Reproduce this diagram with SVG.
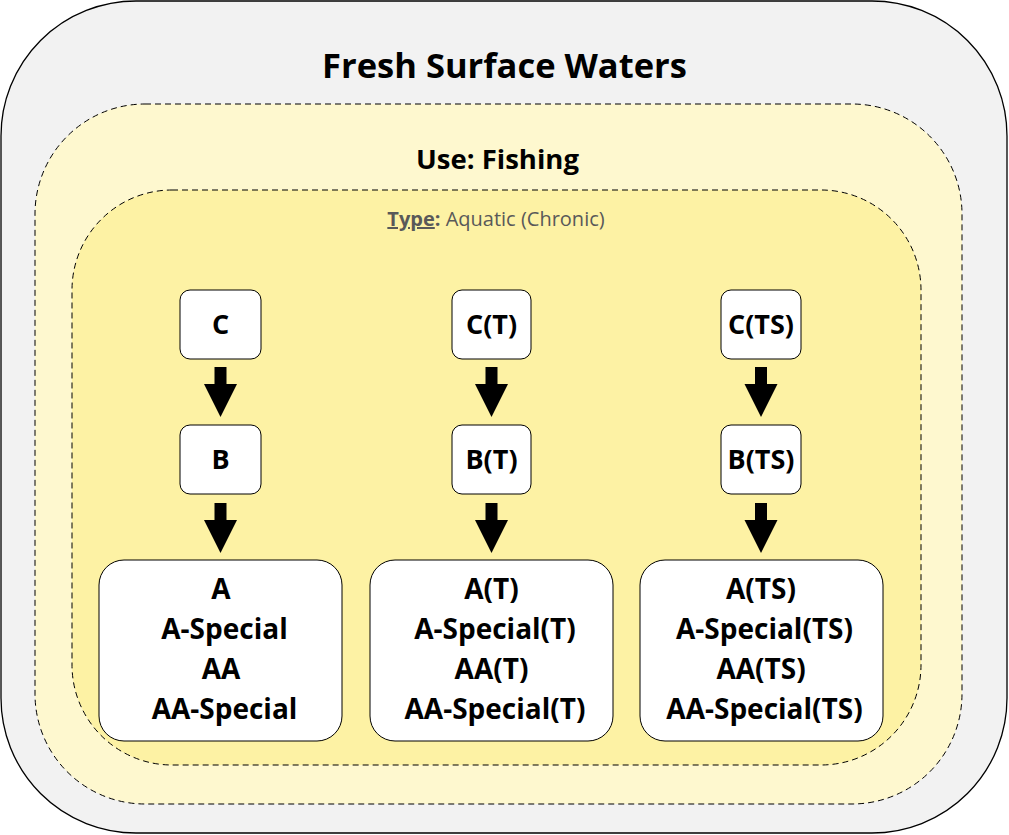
<svg xmlns="http://www.w3.org/2000/svg" width="1009" height="835" viewBox="0 0 1009 835">
<style>
.t{font-family:"Open Sans","Liberation Sans",sans-serif;font-weight:bold;fill:#000;text-anchor:middle}
.box{fill:#fff;stroke:#000;stroke-width:1}
.dash{stroke:#000;stroke-width:1;stroke-dasharray:6 4}
.arr{fill:#000}
</style>
<g id="outer">
<rect x="1" y="1" width="1006" height="832" rx="135" ry="135" fill="#f2f2f2" stroke="#000" stroke-width="1.3"/>
<text class="t" x="504.5" y="78" font-size="34.5">Fresh Surface Waters</text>
</g>
<g id="use-fishing">
<rect x="35" y="104" width="927" height="700" rx="110" ry="110" fill="#fef8cf" class="dash"/>
<text class="t" x="497.5" y="169" font-size="27.5">Use: Fishing</text>
</g>
<g id="type-aquatic">
<rect x="72" y="190" width="849" height="575" rx="100" ry="100" fill="#fdf2a4" class="dash"/>
<text x="496" y="226" font-family="Open Sans,Liberation Sans,sans-serif" font-size="20" fill="#595959" text-anchor="middle"><tspan font-weight="bold" text-decoration="underline">Type</tspan><tspan font-weight="bold">:</tspan> Aquatic (Chronic)</text>
</g>
<g id="n-C"><rect class="box" x="180" y="290" width="81" height="69" rx="10"/><text class="t" x="220.5" y="334" font-size="27">C</text></g>
<g id="n-B"><rect class="box" x="180" y="425" width="81" height="69" rx="10"/><text class="t" x="220.5" y="469" font-size="27">B</text></g>
<g id="n-A"><rect class="box" x="99" y="560" width="243" height="181" rx="25"/>
<text class="t" font-size="28"><tspan x="221" y="599">A</tspan><tspan x="224.5" y="639">A-Special</tspan><tspan x="221" y="679">AA</tspan><tspan x="224.5" y="719">AA-Special</tspan></text></g>
<g id="n-CT"><rect class="box" x="452" y="290" width="79" height="69" rx="10"/><text class="t" x="491.5" y="334" font-size="27">C(T)</text></g>
<g id="n-BT"><rect class="box" x="452" y="425" width="79" height="69" rx="10"/><text class="t" x="491.5" y="469" font-size="27">B(T)</text></g>
<g id="n-AT"><rect class="box" x="370" y="560" width="243" height="181" rx="25"/>
<text class="t" font-size="28"><tspan x="491.5" y="599">A(T)</tspan><tspan x="495" y="639">A-Special(T)</tspan><tspan x="491.5" y="679">AA(T)</tspan><tspan x="495" y="719">AA-Special(T)</tspan></text></g>
<g id="n-CTS"><rect class="box" x="721" y="290" width="80" height="69" rx="10"/><text class="t" x="761" y="334" font-size="27">C(TS)</text></g>
<g id="n-BTS"><rect class="box" x="721" y="425" width="80" height="69" rx="10"/><text class="t" x="761" y="469" font-size="27">B(TS)</text></g>
<g id="n-ATS"><rect class="box" x="640" y="560" width="243" height="181" rx="25"/>
<text class="t" font-size="28"><tspan x="761" y="599">A(TS)</tspan><tspan x="764.5" y="639">A-Special(TS)</tspan><tspan x="761" y="679">AA(TS)</tspan><tspan x="764.5" y="719">AA-Special(TS)</tspan></text></g>
<g id="connectors">
<defs><path id="ba" d="M-6,0 H6 V17 H16.5 L0,50 L-16.5,17 H-6 Z"/></defs>
<use href="#ba" class="arr" x="220.5" y="367"/>
<use href="#ba" class="arr" x="220.5" y="503"/>
<use href="#ba" class="arr" x="491.5" y="367"/>
<use href="#ba" class="arr" x="491.5" y="503"/>
<use href="#ba" class="arr" x="761" y="367"/>
<use href="#ba" class="arr" x="761" y="503"/>
</g>
</svg>
